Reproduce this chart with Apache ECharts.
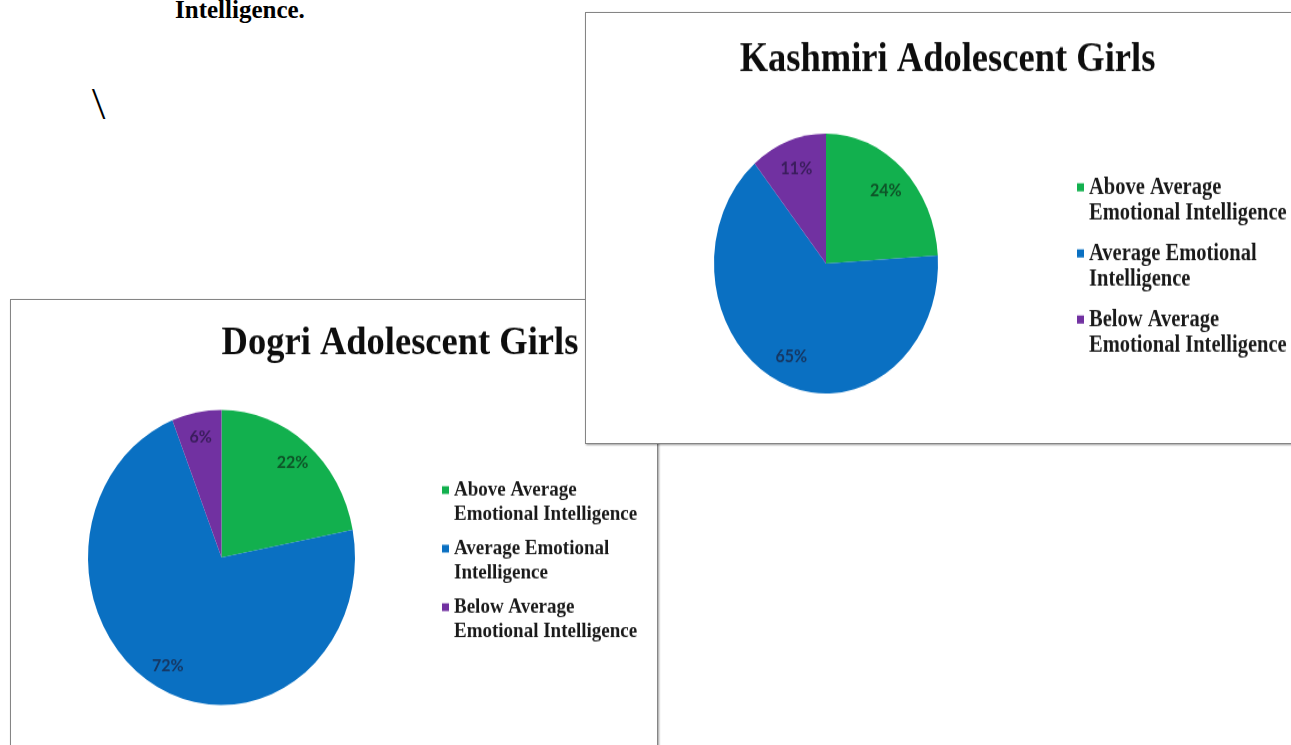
<!DOCTYPE html>
<html>
<head>
<meta charset="utf-8">
<title>Emotional Intelligence of Adolescent Girls</title>
<script src="https://cdn.jsdelivr.net/npm/echarts@6/dist/echarts.min.js"></script>
<style>
  html, body { margin: 0; padding: 0; background: #fff; width: 1291px; height: 745px; overflow: hidden; position: relative; }
  .caption { position: absolute; left: 175px; top: -3px; font: bold 25px/25px 'Liberation Serif', serif; color: #000; white-space: nowrap; }
  .slash { position: absolute; left: 91px; top: 85px; font: 300 38px/38px 'Roboto', 'Liberation Sans', sans-serif; color: #000; }
  .panel { position: absolute; background: #fff; border: 1px solid #858585; box-shadow: 1px 1px 2px rgba(0,0,0,.4); overflow: hidden; }
  #dogriPanel { left: 10px; top: 299px; width: 646px; height: 470px; z-index: 1; }
  #kashmiriPanel { left: 585px; top: 12px; width: 740px; height: 430px; z-index: 2; }
  .chart { position: absolute; left: 0; top: 0; transform-origin: 0 0; }
  #kashmiriChart { width: 723px; height: 371px; transform: scaleY(1.16); }
  #dogriChart { width: 778px; height: 426px; transform: scaleY(1.105); }
</style>
</head>
<body>
<div class="caption">Intelligence.</div>
<div class="slash">\</div>
<div class="panel" id="dogriPanel"><div class="chart" id="dogriChart"></div></div>
<div class="panel" id="kashmiriPanel"><div class="chart" id="kashmiriChart"></div></div>
<script>
// Emotional intelligence levels (percent of girls in each group)
const categories = [
  'Above Average\nEmotional Intelligence',
  'Average Emotional\nIntelligence',
  'Below Average\nEmotional Intelligence'
];
const kashmiriValues = [24, 65, 11];
const dogriValues = [22, 72, 6];

const sliceColors = ['#12b04e', '#0a70c2', '#7131a1'];
const labelColors = ['#0e5428', '#163763', '#3a1d5c'];

function buildOption(cfg) {
  const cx = cfg.center[0], cy = cfg.center[1];
  return {
    animation: false,
    title: {
      text: cfg.title,
      left: 'center',
      top: cfg.titleTop,
      padding: 0,
      textStyle: { fontFamily: 'Liberation Serif', fontWeight: 'bold', fontSize: 36.5, color: '#0d0d0d' }
    },
    legend: {
      orient: 'vertical',
      left: cfg.legendLeft,
      top: cfg.legendTop,
      padding: 0,
      itemGap: cfg.legendGap,
      itemWidth: 7,
      itemHeight: 7,
      icon: 'rect',
      // a blank leading line keeps the marker level with the first text line
      formatter: function (name) { return '\n' + name; },
      textStyle: {
        fontFamily: 'Liberation Serif', fontWeight: 'bold',
        fontSize: cfg.legendFont, lineHeight: cfg.legendLine,
        color: '#1a1a1a'
      },
      data: categories
    },
    series: [{
      type: 'pie',
      center: cfg.center,
      radius: cfg.radius,
      startAngle: 90,
      clockwise: true,
      avoidLabelOverlap: false,
      labelLine: { show: false },
      label: {
        show: true,
        position: 'inside',
        formatter: '{c}%',
        fontFamily: 'Lato', fontWeight: 'bold', fontSize: 16
      },
      // push the inside labels outward along each slice's bisector
      labelLayout: function (p) {
        const r = p.labelRect;
        const lx = r.x + r.width / 2, ly = r.y + r.height / 2;
        return { x: cx + (lx - cx) * cfg.labelPush, y: cy + (ly - cy) * cfg.labelPush };
      },
      emphasis: { disabled: true },
      data: cfg.values.map(function (v, i) {
        return {
          name: categories[i], value: v,
          itemStyle: { color: sliceColors[i] },
          label: { color: labelColors[i] }
        };
      })
    }]
  };
}

const kashmiri = echarts.init(document.getElementById('kashmiriChart'), null, { renderer: 'canvas' });
kashmiri.setOption(buildOption({
  title: 'Kashmiri Adolescent Girls',
  titleTop: 22,
  values: kashmiriValues,
  center: [240, 216],
  radius: 112,
  labelPush: 1.48,
  legendLeft: 491,
  legendTop: 116.5,
  legendGap: -10.5,
  legendFont: 20.5,
  legendLine: 22.5
}));

const dogri = echarts.init(document.getElementById('dogriChart'), null, { renderer: 'canvas' });
dogri.setOption(buildOption({
  title: 'Dogri Adolescent Girls',
  titleTop: 21.5,
  values: dogriValues,
  center: [210.5, 233],
  radius: 133.5,
  labelPush: 1.6,
  legendLeft: 431,
  legendTop: 139,
  legendGap: -13,
  legendFont: 19,
  legendLine: 22
}));
</script>
</body>
</html>
